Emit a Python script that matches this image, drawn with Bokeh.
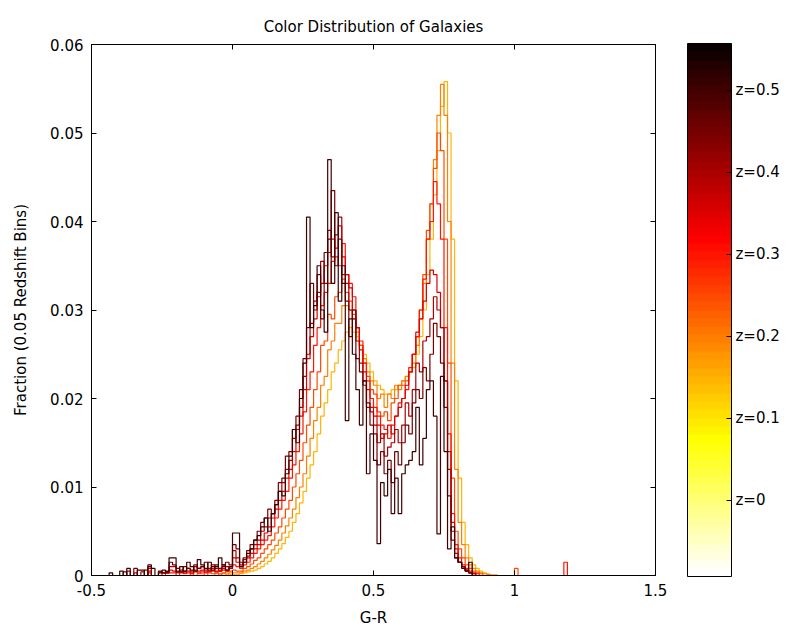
import numpy as np
from bokeh.plotting import figure
from bokeh.models import ColorBar, LinearColorMapper, FixedTicker, LinearAxis, Range1d
from bokeh.embed import file_html
from bokeh.resources import INLINE

# ---- data (fractions in units of 1e-3), bins of 0.0125 starting at -0.45 ----
BIN_START = -0.45
BIN_WIDTH = 0.0125
N_BINS = 132

redshifts = [0.15, 0.2, 0.25, 0.3, 0.35, 0.4, 0.45, 0.5]

permille_z015 = [
    0, 0, 0, 0, 0, 0, 0, 0, 0, 0, 0, 0, 0, 0, 0, 0, 0, 0, 0, 0, 0, 0, 0, 0, 0, 0, 0, 0, 0, 0, 0, 0, 0.1, 0, 0.1, 0.1,
    0.1, 0.1, 0.2, 0.3, 0.4, 0.5, 0.6, 0.8,
    1.0, 1.3, 1.6, 2.0, 2.5, 3.0, 3.6, 4.3,
    5.0, 6.0, 7.0, 8.2, 9.5, 11.0, 12.5, 14.0,
    16.0, 18.0, 19.5, 21.0, 23.0, 24.0, 25.5, 26.5,
    27.5, 28.0, 27.5, 27.0, 26.0, 25.0, 24.0, 23.0,
    22.0, 21.5, 21.0, 20.5, 20.5, 21.0, 21.0, 21.5,
    22.0, 22.5, 23.0, 23.5, 25.0, 27.0, 30.0, 34.0,
    38.0, 43.0, 48.0, 53.0, 55.8, 50.0, 38.0, 22.0,
    11.0, 6.0, 3.5, 2.0, 1.2, 0.8, 0.5, 0.3, 0.2, 0.1, 0.1, 0,
    0, 0, 0, 0, 0, 0, 0, 0, 0, 0, 0, 0, 0, 0, 0, 0, 0, 0, 0, 0,
]
permille_z020 = [
    0, 0, 0, 0, 0, 0, 0, 0, 0, 0, 0, 0, 0, 0, 0, 0, 0, 0, 0, 0, 0, 0, 0, 0, 0, 0, 0, 0, 0, 0, 0, 0.2, 0, 0.2, 0.2, 0.3,
    0.3, 0.3, 0.3, 0.5, 0.6, 0.8, 1.0, 1.3,
    1.6, 2.0, 2.4, 2.9, 3.4, 4.0, 4.8, 5.6,
    6.5, 7.5, 8.8, 10.0, 11.5, 13.5, 15.5, 17.5,
    19.0, 21.5, 22.5, 25.5, 26.5, 28.5, 28.5, 30.5,
    30.5, 30.0, 29.0, 27.5, 26.0, 24.5, 23.0, 22.0,
    21.5, 20.0, 20.5, 19.0, 20.5, 20.0, 21.5, 21.0,
    22.0, 22.5, 23.0, 24.0, 26.0, 29.0, 33.0, 38.0,
    42.0, 47.0, 52.0, 55.5, 52.0, 40.0, 24.0, 12.0,
    6.0, 3.5, 2.0, 1.2, 0.8, 0.5, 0.3, 0.2, 0.1, 0, 0, 0,
    0, 0, 0, 0, 0, 0, 0, 0, 0, 0, 0, 0, 0, 0, 0, 0, 0, 0, 0, 0,
]
permille_z025 = [
    0, 0, 0, 0, 0, 0, 0, 0, 0, 0, 0, 0, 0, 0, 0, 0, 0, 0, 0, 0, 0, 0, 0, 0, 0.2, 0, 0.2, 0.2, 0, 0.3, 0.2, 0.3, 0.2, 0.3, 0.4, 0.5,
    0.6, 0.5, 0.5, 0.8, 1.0, 1.3, 1.7, 2.0,
    2.5, 3.0, 3.5, 4.0, 4.8, 5.5, 6.5, 7.5,
    8.5, 10.0, 11.5, 13.0, 15.0, 17.0, 19.0, 21.0,
    23.0, 26.0, 26.5, 29.5, 29.0, 31.5, 32.0, 33.5,
    32.0, 31.0, 29.5, 28.0, 26.0, 24.0, 22.5, 21.0,
    20.5, 18.5, 18.0, 18.5, 17.5, 19.5, 20.0, 21.5,
    21.5, 22.0, 23.0, 25.0, 27.0, 30.0, 34.0, 39.0,
    42.0, 46.0, 50.0, 48.0, 38.0, 24.0, 11.0, 5.0,
    3.0, 2.0, 1.2, 0.8, 0.5, 0.3, 0.2, 0, 0, 0, 0, 0,
    0, 0, 0, 0, 0.8, 0, 0, 0, 0, 0, 0, 0, 0, 0, 0, 0, 0, 0, 0, 0,
]
permille_z030 = [
    0, 0, 0, 0, 0, 0, 0, 0, 0, 0, 0, 0, 0.3, 0, 0, 0, 0, 0.3, 0.3, 0.3, 0, 0.3, 0.2, 0.3, 0.2, 0.4, 0.3, 0.4, 0.3, 0.4, 0.5, 0.4, 0.5, 0.6, 0.5, 0.8,
    1.2, 1.0, 0.8, 1.2, 1.5, 2.0, 2.5, 3.0,
    3.5, 4.0, 4.5, 5.5, 6.5, 7.5, 8.5, 9.5,
    11.0, 12.5, 14.0, 16.0, 18.5, 21.0, 23.0, 26.0,
    28.0, 30.5, 32.0, 33.0, 35.5, 36.0, 35.0, 37.5,
    34.0, 33.0, 31.5, 28.0, 26.5, 24.0, 22.0, 20.0,
    19.0, 18.0, 17.0, 16.5, 15.5, 17.0, 18.0, 19.5,
    20.0, 21.0, 23.5, 25.0, 27.0, 30.0, 33.5, 38.0,
    40.0, 44.5, 42.0, 38.0, 28.0, 16.0, 7.0, 3.5,
    2.0, 1.2, 0.8, 0.5, 0.3, 0.2, 0, 0, 0, 0, 0, 0,
    0, 0, 0, 0, 0, 0, 0, 0, 0, 0, 0, 0, 0, 0, 0, 0, 0, 0, 1.5, 0,
]
permille_z035 = [
    0, 0, 0, 0, 0, 0, 0, 0, 0.3, 0, 0, 0, 0.5, 0, 0, 0, 0.3, 0.3, 0.6, 0.5, 0.3, 0.4, 0.3, 0.5, 0.3, 0.6, 0.5, 0.6, 0.4, 0.5, 0.8, 0.5, 0.5, 0.8, 0.6, 0.8,
    2.0, 1.5, 1.0, 1.5, 2.0, 2.5, 3.0, 3.5,
    4.0, 4.8, 5.5, 6.5, 7.5, 8.5, 9.5, 11.0,
    12.0, 14.0, 16.5, 18.0, 21.0, 24.5, 27.0, 29.0,
    31.5, 33.0, 35.0, 36.5, 38.0, 37.0, 39.5, 36.0,
    34.0, 32.5, 30.0, 28.0, 25.5, 23.0, 21.0, 19.0,
    18.0, 17.0, 15.5, 16.0, 17.0, 16.0, 18.0, 19.0,
    20.0, 21.5, 23.0, 25.0, 27.5, 29.0, 31.0, 33.0,
    34.5, 34.0, 32.0, 28.0, 22.0, 14.0, 6.0, 3.0,
    1.5, 1.0, 0.6, 0.3, 0.2, 0, 0, 0, 0, 0, 0, 0,
    0, 0, 0, 0, 0, 0, 0, 0, 0, 0, 0, 0, 0, 0, 0, 0, 0, 0, 0, 0,
]
permille_z040 = [
    0, 0, 0, 0, 0, 0, 0.5, 0, 0, 0, 0.4, 0, 0.8, 0, 0, 0.4, 0.3, 0.3, 1.0, 1.0, 0.5, 0.6, 0.5, 0.8, 0.5, 1.0, 0.8, 1.0, 0.6, 0.8, 1.2, 0.8, 0.6, 1.2, 1.0, 0.8,
    2.8, 2.0, 1.2, 1.8, 2.2, 3.0, 3.5, 4.0,
    5.0, 5.5, 6.5, 7.0, 8.0, 9.5, 10.5, 12.0,
    13.0, 15.5, 17.0, 19.0, 22.5, 25.0, 28.5, 31.0,
    32.0, 35.5, 33.0, 39.0, 36.0, 38.5, 40.5, 34.0,
    33.0, 30.0, 29.0, 26.5, 24.0, 22.0, 19.0, 18.5,
    17.0, 15.0, 16.0, 13.5, 14.5, 15.0, 16.5, 15.0,
    17.0, 19.5, 18.0, 21.0, 24.0, 23.0, 26.5, 27.0,
    29.0, 31.5, 30.0, 28.0, 22.0, 12.0, 5.0, 2.5,
    1.5, 1.0, 0.6, 0.3, 0.2, 0, 0, 0, 0, 0, 0, 0,
    0, 0, 0, 0, 0, 0, 0, 0, 0, 0, 0, 0, 0, 0, 0, 0, 0, 0, 0, 0,
]
permille_z045 = [
    0, 0, 0, 0, 0, 0.4, 0, 0, 0.8, 0, 0, 0.6, 1.0, 0, 0, 0.5, 0.3, 0.5, 1.5, 1.2, 0.8, 0.4, 1.0, 0.8, 0.6, 1.2, 0.8, 1.0, 1.5, 0.6, 1.0, 1.2, 0.8, 1.0, 1.5, 1.2,
    3.5, 3.0, 1.5, 2.0, 2.8, 3.5, 4.0, 5.0,
    6.0, 6.5, 7.5, 7.0, 8.5, 10.5, 11.0, 13.5,
    14.0, 16.5, 18.0, 21.0, 24.5, 28.0, 33.0, 30.0,
    34.0, 29.0, 36.5, 38.0, 43.5, 35.0, 38.0, 33.0,
    31.0, 27.0, 30.0, 24.5, 23.0, 21.5, 19.5, 17.0,
    16.0, 12.5, 14.0, 11.5, 13.0, 10.5, 14.0, 12.5,
    15.0, 17.0, 16.0, 19.5, 21.0, 20.0, 23.5, 22.0,
    25.0, 28.5, 27.0, 24.0, 19.0, 9.0, 4.0, 2.0,
    1.5, 1.0, 0.5, 0.3, 0, 0, 0, 0, 0, 0, 0, 0,
    0, 0, 0, 0, 0, 0, 0, 0, 0, 0, 0, 0, 0, 0, 0, 0, 0, 0, 0, 0,
]
permille_z050 = [
    0, 0.3, 0, 0, 0.5, 0, 0.8, 0, 0, 0.6, 0.6, 0, 1.2, 0.8, 0, 0.3, 0.6, 0.4, 2.0, 2.0, 0.4, 1.0, 0.5, 1.5, 1.0, 0.5, 1.8, 1.2, 0.8, 1.5, 0.6, 1.0, 2.0, 1.2, 0.6, 1.0,
    4.8, 4.8, 1.0, 1.5, 2.5, 3.0, 4.0, 4.5,
    5.5, 6.5, 5.0, 7.0, 8.0, 9.5, 9.0, 11.5,
    13.5, 16.5, 15.0, 20.0, 24.0, 40.5, 28.0, 30.5,
    35.0, 30.0, 27.5, 47.0, 33.0, 41.0, 31.0, 35.0,
    17.5, 29.0, 25.0, 21.0, 17.0, 22.0, 11.5, 16.0,
    13.0, 3.6, 10.5, 9.0, 12.0, 7.0, 11.0, 7.0,
    11.5, 12.5, 13.0, 14.0, 19.0, 12.5, 15.5, 21.0,
    22.0, 18.0, 4.7, 22.5, 14.0, 3.0, 5.5, 2.0,
    1.5, 0.8, 0.5, 1.5, 0, 0, 0, 0, 0, 0, 0, 0,
    0, 0, 0, 0, 0, 0, 0, 0, 0, 0, 0, 0, 0, 0, 0, 0, 0, 0, 0, 0,
]
series = [permille_z015, permille_z020, permille_z025, permille_z030,
          permille_z035, permille_z040, permille_z045, permille_z050]

x_ticks = [-0.5, 0, 0.5, 1, 1.5]
x_labels = ["-0.5", "0", "0.5", "1", "1.5"]
y_ticks = [0, 0.01, 0.02, 0.03, 0.04, 0.05, 0.06]
y_labels = ["0", "0.01", "0.02", "0.03", "0.04", "0.05", "0.06"]
z_ticks = [0, 0.1, 0.2, 0.3, 0.4, 0.5]
z_labels = ["z=0", "z=0.1", "z=0.2", "z=0.3", "z=0.4", "z=0.5"]
Z_LOW, Z_HIGH = -0.093, 0.557

# ---- colormap: MATLAB "hot", flipped (white at bottom, black at top) ----
def hot(m=64):
    n = int(3 * m / 8)
    cols = []
    for i in range(m):
        r = min(1.0, (i + 1) / n)
        g = 0.0 if i < n else min(1.0, (i + 1 - n) / n)
        b = 0.0 if i < 2 * n else (i + 1 - 2 * n) / (m - 2 * n)
        cols.append("#%02x%02x%02x" % (round(r * 255), round(g * 255), round(b * 255)))
    return cols

palette = hot(64)[::-1]
mapper = LinearColorMapper(palette=palette, low=Z_LOW, high=Z_HIGH)

FONT = "DejaVu Sans"
FS = "15px"

p = figure(width=780, height=633, x_range=Range1d(-0.5, 1.5), y_range=Range1d(0, 0.06),
           output_backend="svg", toolbar_location=None,
           title="Color Distribution of Galaxies",
           min_border_left=91, min_border_right=125, min_border_top=44, min_border_bottom=58)
p.grid.visible = False
p.outline_line_color = "black"
p.background_fill_color = "white"
p.border_fill_color = "white"
p.title.align = "center"
p.title.offset = 10
p.title.standoff = 18
p.title.text_font = FONT
p.title.text_font_size = FS
p.title.text_font_style = "normal"
p.title.text_color = "black"

edges = BIN_START + BIN_WIDTH * np.arange(N_BINS + 1)
for z, vals in zip(redshifts, series):
    assert len(vals) == N_BINS, (z, len(vals))
    idx = int((z - Z_LOW) / (Z_HIGH - Z_LOW) * len(palette))
    color = palette[min(idx, len(palette) - 1)]
    y = np.array(list(vals) + [0]) / 1000.0
    p.step(x=edges, y=y, mode="after", line_color=color, line_width=1.2)

for ax in (p.xaxis[0], p.yaxis[0]):
    ax.axis_line_color = "black"
    ax.major_tick_line_color = "black"
    ax.major_tick_in = 5
    ax.major_tick_out = 0
    ax.minor_tick_line_color = None
    ax.major_label_text_font = FONT
    ax.major_label_text_font_size = FS
    ax.major_label_text_color = "black"
    ax.axis_label_text_font = FONT
    ax.axis_label_text_font_size = FS
    ax.axis_label_text_font_style = "normal"
    ax.axis_label_text_color = "black"

p.xaxis.ticker = FixedTicker(ticks=x_ticks)
p.xaxis.major_label_overrides = dict(zip(x_ticks, x_labels))
p.yaxis.ticker = FixedTicker(ticks=y_ticks)
p.yaxis.major_label_overrides = dict(zip(y_ticks, y_labels))
p.xaxis.axis_label = "G-R"
p.yaxis.axis_label = "Fraction (0.05 Redshift Bins)"
p.xaxis.major_label_standoff = 8
p.yaxis.major_label_standoff = 8
p.xaxis.axis_label_standoff = 10
p.yaxis.axis_label_standoff = 17

for loc, ticks in (("above", x_ticks), ("right", y_ticks)):
    a = LinearAxis(ticker=FixedTicker(ticks=ticks), major_label_text_font_size="1px",
                   major_label_text_color=None,
                   major_label_standoff=0, major_tick_in=5, major_tick_out=0,
                   minor_tick_line_color=None, axis_line_color="black",
                   major_tick_line_color="black")
    p.add_layout(a, loc)

# colour bar placed 32px right of the frame (frame is 564px wide), bottom 1px below frame
cb = ColorBar(color_mapper=mapper, ticker=FixedTicker(ticks=z_ticks),
              major_label_overrides=dict(zip(z_ticks, z_labels)),
              width=44, height=533, padding=0, margin=0, location=(596, -1),
              bar_line_color="black", major_tick_in=5, major_tick_out=0,
              major_tick_line_color="black", label_standoff=4,
              major_label_text_font=FONT, major_label_text_font_size=FS,
              major_label_text_color="black",
              background_fill_alpha=0, border_line_color=None)
p.add_layout(cb, "center")

open("out.html", "w").write(file_html(p, INLINE))
